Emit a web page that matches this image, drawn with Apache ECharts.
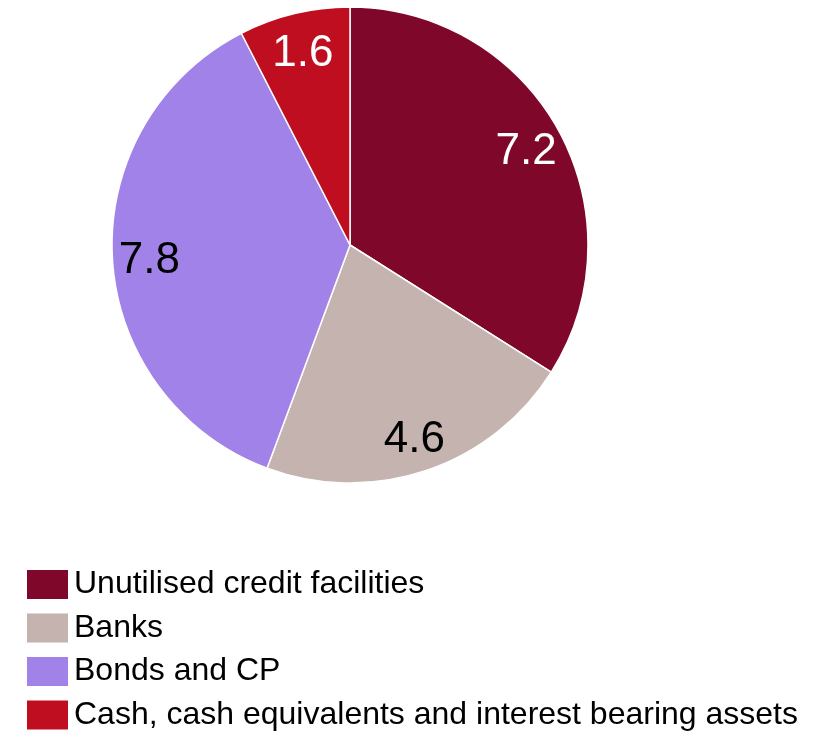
<!DOCTYPE html>
<html>
<head>
<meta charset="utf-8">
<script src="https://cdn.jsdelivr.net/npm/echarts@6/dist/echarts.min.js"></script>
<style>
html,body{margin:0;padding:0;background:#fff;}
#c{width:814px;height:737px;}
</style>
</head>
<body>
<div id="c"></div>
<script>
const categories = ['Unutilised credit facilities', 'Banks', 'Bonds and CP', 'Cash, cash equivalents and interest bearing assets'];
const values = [7.2, 4.6, 7.8, 1.6];
const colors = ['#7F0729', '#C4B3AF', '#A182E8', '#BF0E20'];
const labelColors = ['#ffffff', '#000000', '#000000', '#ffffff'];

const font = '"Liberation Sans", Arial, sans-serif';
const chart = echarts.init(document.getElementById('c'), null, {renderer: 'canvas'});

const mainData = categories.map((n, i) => ({
  name: n, value: values[i], itemStyle: {color: colors[i]}
}));
const labelData = categories.map((n, i) => ({
  name: n, value: values[i],
  label: {color: labelColors[i]}
}));

chart.setOption({
  animation: false,
  backgroundColor: '#fff',
  legend: {
    orient: 'vertical',
    left: 25,
    top: 568,
    height: 400,
    width: 789,
    padding: 0,
    icon: 'rect',
    itemWidth: 43,
    itemHeight: 31,
    itemGap: 10.5,
    selectedMode: false,
    data: categories,
    textStyle: {fontFamily: font, fontSize: 32, lineHeight: 31, color: '#000', padding: [0, 0, 0, 0]}
  },
  series: [
    {
      type: 'pie',
      center: [350, 245],
      radius: [0, 238],
      startAngle: 90,
      clockwise: true,
      silent: true,
      label: {show: false},
      labelLine: {show: false},
      itemStyle: {borderColor: '#fff', borderWidth: 1.5},
      data: mainData
    },
    {
      type: 'pie',
      center: [350, 245],
      radius: [158, 238],
      startAngle: 90,
      clockwise: true,
      silent: true,
      legendHoverLink: false,
      itemStyle: {color: 'rgba(0,0,0,0)', borderWidth: 0},
      label: {show: true, position: 'inside', fontFamily: font, fontSize: 44,
              offset: [0, 4],
              formatter: p => p.value.toFixed(1)},
      labelLine: {show: false},
      emphasis: {disabled: true},
      data: labelData
    }
  ]
});
</script>
</body>
</html>
